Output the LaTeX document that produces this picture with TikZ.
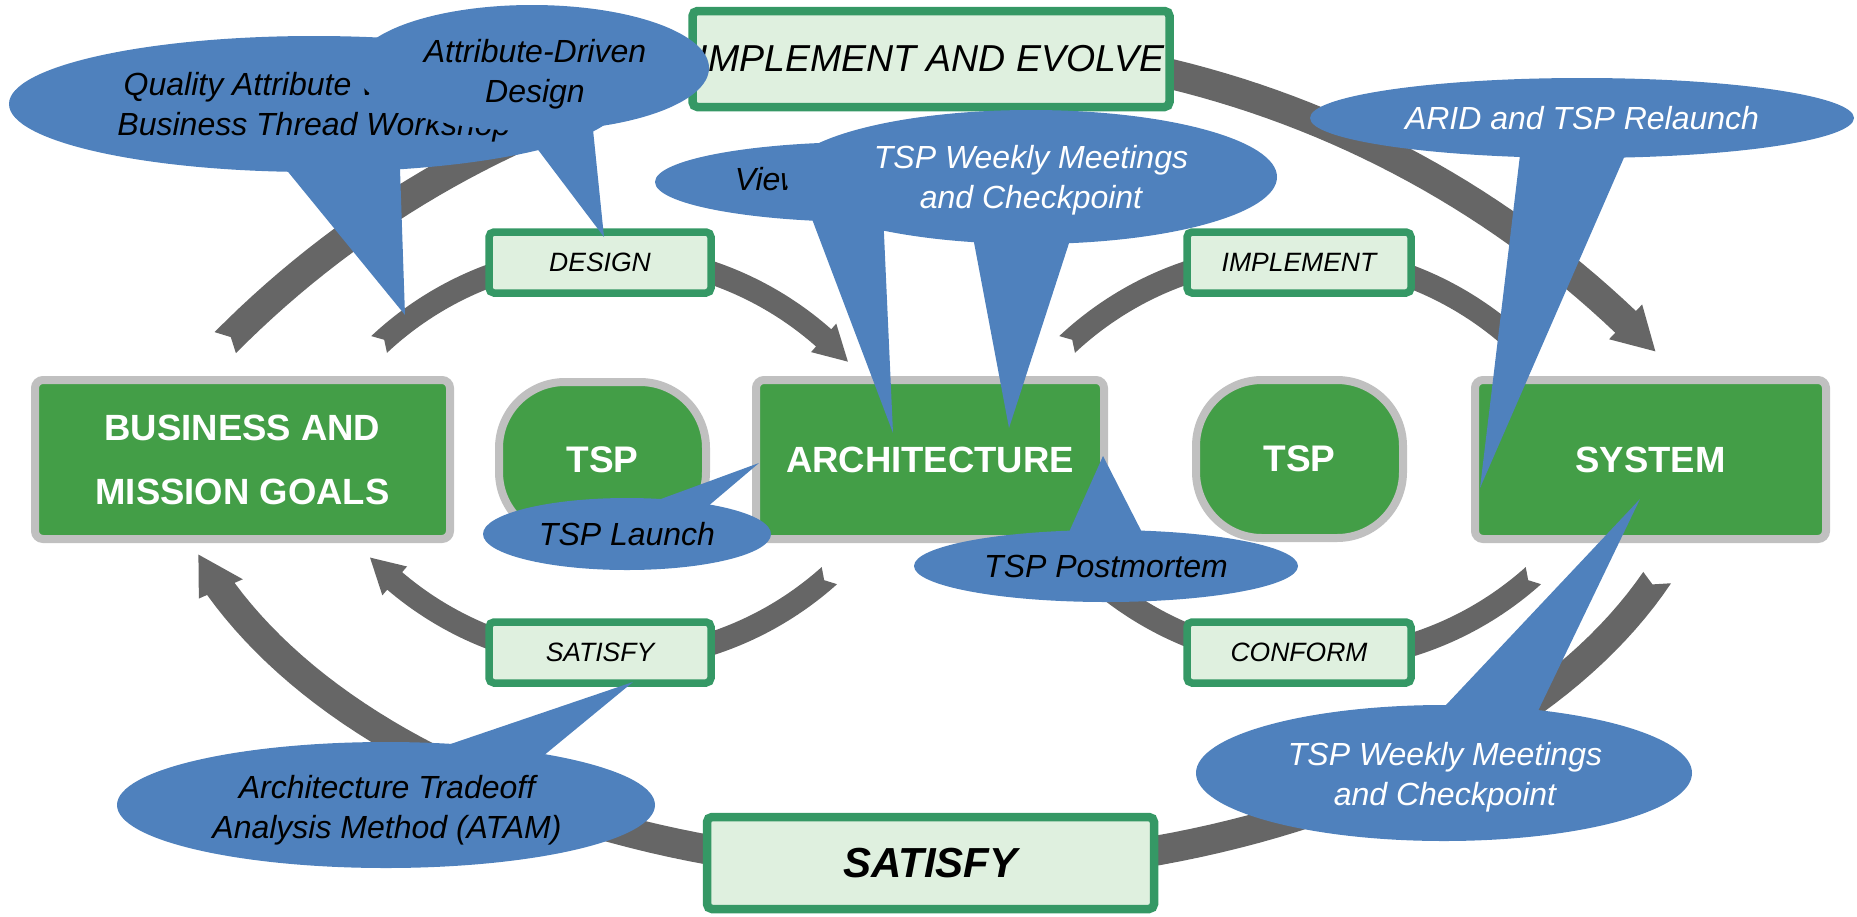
\documentclass[tikz,border=0pt]{standalone}
\usepackage{fontspec}
\setmainfont{Liberation Sans}
\usetikzlibrary{shapes.geometric}

\definecolor{boxgreen}{RGB}{67,158,71}
\definecolor{boxrim}{RGB}{192,192,192}
\definecolor{tagfill}{RGB}{223,240,223}
\definecolor{tagrim}{RGB}{53,152,101}
\definecolor{callblue}{RGB}{79,129,189}
\definecolor{arrowgray}{RGB}{102,102,102}

% half width of the current band
\newcommand\bandhalf{12}
% thick curved band on an ellipse: centre (#1,#2), radii #3/#4,
% notched tail at angle #5 (notch point at #6), head base at #7, tip at #8,
% head half width #9
\newcommand\arcband[9]{%
  \fill[arrowgray]
    plot[domain=#5:#7, samples=90] ({#1+(#3+\bandhalf)*cos(\x)},{#2+(#4+\bandhalf)*sin(\x)})
    -- ({#1+(#3+#9)*cos(#7)},{#2+(#4+#9)*sin(#7)})
    -- ({#1+#3*cos(#8)},{#2+#4*sin(#8)})
    -- ({#1+(#3-#9)*cos(#7)},{#2+(#4-#9)*sin(#7)})
    -- plot[domain=#7:#5, samples=90] ({#1+(#3-\bandhalf)*cos(\x)},{#2+(#4-\bandhalf)*sin(\x)})
    -- ({#1+#3*cos(#6)},{#2+#4*sin(#6)})
    -- cycle;}

\begin{document}
\begin{tikzpicture}[x=1pt, y=-1pt,
  mainbox/.style={draw=boxrim, line width=8pt, fill=boxgreen, rounded corners=8pt,
    inner sep=0pt, outer sep=0pt, text=white, align=center,
    font=\fontsize{36.5}{64}\selectfont\bfseries},
  tspbox/.style={mainbox, rounded corners=66pt, font=\fontsize{37}{40}\selectfont\bfseries},
  tag/.style={draw=tagrim, line width=7.5pt, fill=tagfill, rounded corners=5pt,
    inner sep=0pt, outer sep=0pt, text=black,
    font=\fontsize{26.5}{30}\selectfont\itshape},
  calltext/.style={inner sep=0pt, outer sep=0pt, align=center, text=black,
    font=\fontsize{32}{40}\selectfont\itshape},
  callout/.style={ellipse, fill=callblue, draw=none, calltext},
  tail/.style={fill=callblue, draw=none},
]
\useasboundingbox (0,0) rectangle (1857,916);

% ---- outer loop
\renewcommand\bandhalf{15}
\arcband{936}{1046}{1000}{1000}{-135.3}{-134.85}{-46.4}{-44.0}{24}
\arcband{935}{400}{780}{470}{22.2}{23.1}{156.3}{160.8}{24}

% ---- inner loops
\renewcommand\bandhalf{11.5}
\arcband{605}{585}{330}{330}{-133.2}{-132}{-48.5}{-42.6}{19}
\arcband{1293}{585}{330}{330}{-133.2}{-132}{-48}{-48}{11.5}
\arcband{609}{330}{330}{330}{48.1}{49.3}{130.5}{136.4}{19}
\arcband{1313}{330}{330}{330}{48.1}{49.3}{130.5}{136.4}{19}

% ---- main blocks
\node[mainbox, minimum width=415, minimum height=159] (goals) at (242.5,459.5) {BUSINESS AND\\MISSION GOALS};
\node[tspbox, minimum width=207, minimum height=156] (tspA) at (602.5,460) {TSP};
\node[mainbox, minimum width=348, minimum height=159] (arch) at (930,459.5) {ARCHITECTURE};
\node[tspbox, minimum width=207, minimum height=158] (tspB) at (1299.5,459) {TSP};
\node[mainbox, minimum width=351, minimum height=159] (system) at (1650.5,459.5) {SYSTEM};

% ---- activity tags
\node[tag, minimum width=222, minimum height=61] (design) at (600,262.5) {DESIGN};
\node[tag, minimum width=224, minimum height=61] (implement) at (1299,262.5) {IMPLEMENT};
\node[tag, minimum width=222, minimum height=61] (satisfy) at (600,652.5) {SATISFY};
\node[tag, minimum width=224, minimum height=61] (conform) at (1299,652.5) {CONFORM};
\node[tag, line width=8.5pt, minimum width=477, minimum height=96,
  font=\fontsize{37.5}{40}\selectfont\itshape] (evolve) at (931,59) {IMPLEMENT AND EVOLVE};
\node[tag, line width=8.5pt, minimum width=447, minimum height=92,
  font=\fontsize{42}{46}\selectfont\bfseries\itshape] (satisfyall) at (930.5,863) {SATISFY};

% ---- callouts
\fill[tail] (262,140) -- (399,140) -- (405,315) -- cycle;
\node[callout, minimum width=610, minimum height=136] (qaw) at (314,104) {};
\node[calltext] (qawtext) at (314,107) {Quality Attribute Workshop\\Business Thread Workshop};

\fill[tail] (508,110) -- (591,110) -- (604,237) -- cycle;
\node[callout, minimum width=354, minimum height=126] (add) at (532,68) {};
\node[calltext] (addtext) at (535,74.5) {Attribute-Driven\\Design};

\fill[tail] (801,190) -- (882,190) -- (893,433) -- cycle;
\node[callout, minimum width=424, minimum height=80] (views) at (867,182)
  {Views and Beyond};

\fill[tail] (966,200) -- (1083,200) -- (1009,428) -- cycle;
\node[callout, minimum width=492, minimum height=134] (weeklyA) at (1031,177) {};
\node[calltext, text=white] (weeklyAtext) at (1031,180.5) {TSP Weekly Meetings\\and Checkpoint};

\fill[tail] (1523,130) -- (1636,130) -- (1480,488) -- cycle;
\node[callout, text=white, minimum width=544, minimum height=80] (arid) at (1582,118)
  {ARID and TSP Relaunch};

\fill[tail] (650,503) -- (700,513) -- (759,463) -- cycle;
\node[callout, minimum width=288, minimum height=72] (launch) at (627,534)
  {TSP Launch};

\fill[tail] (1061,550) -- (1151,550) -- (1103,456) -- cycle;
\node[callout, minimum width=384, minimum height=72] (postmortem) at (1106,566)
  {TSP Postmortem};

\fill[tail] (430,751) -- (520,775) -- (633,682) -- cycle;
\node[callout, minimum width=538, minimum height=126] (atam) at (386,805) {};
\node[calltext] (atamtext) at (387,810) {Architecture Tradeoff\\Analysis Method (ATAM)};

\fill[tail] (1413,740) -- (1524,740) -- (1640,499) -- cycle;
\node[callout, minimum width=496, minimum height=136] (weeklyB) at (1444,773) {};
\node[calltext, text=white] (weeklyBtext) at (1445,777) {TSP Weekly Meetings\\and Checkpoint};
\end{tikzpicture}
\end{document}
